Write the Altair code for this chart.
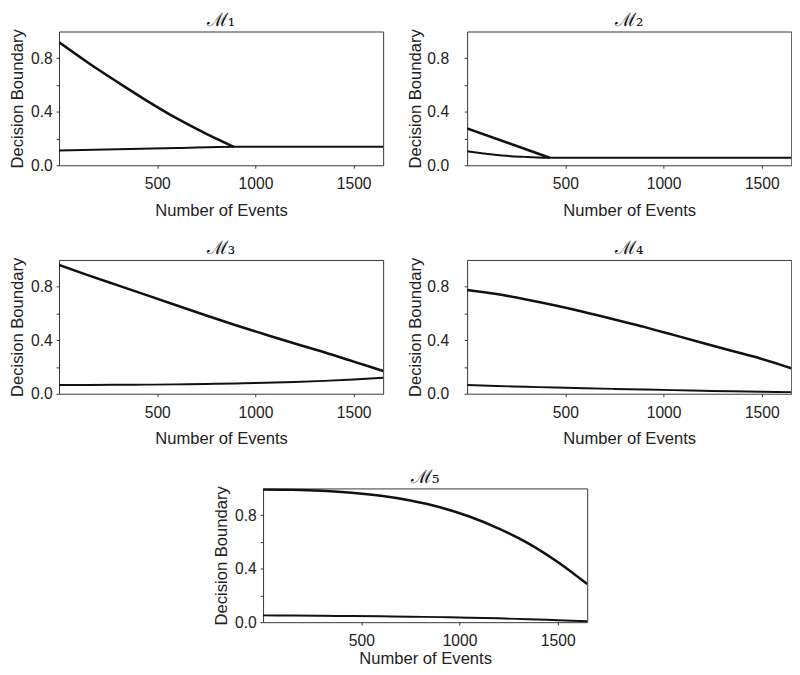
import altair as alt
import pandas as pd

# ---------------- data ----------------
x_grid = [0, 150, 300, 450, 600, 750, 900, 1050, 1200, 1350, 1500, 1650]

# M1
m1_x_upper = [0, 150, 300, 450, 600, 750, 890]
m1_upper = [0.92, 0.765, 0.62, 0.48, 0.35, 0.235, 0.138]
m1_x_lower = [0, 300, 600, 890, 1100, 1400, 1650]
m1_lower = [0.11, 0.12, 0.129, 0.138, 0.138, 0.138, 0.138]

# M2
m2_x_upper = [0, 420]
m2_upper = [0.276, 0.056]
m2_x_lower = [0, 75, 141, 224, 306, 420, 700, 1000, 1300, 1650]
m2_lower = [0.105, 0.09, 0.078, 0.068, 0.062, 0.056, 0.056, 0.056, 0.056, 0.056]

# M3
m3_upper = [0.963, 0.885, 0.81, 0.735, 0.66, 0.585, 0.512, 0.443, 0.375, 0.31, 0.24, 0.17]
m3_lower = [0.066, 0.066, 0.067, 0.068, 0.07, 0.073, 0.077, 0.082, 0.088, 0.096, 0.106, 0.12]

# M4
m4_upper = [0.776, 0.745, 0.705, 0.66, 0.61, 0.555, 0.5, 0.44, 0.38, 0.32, 0.26, 0.19]
m4_lower = [0.066, 0.058, 0.052, 0.046, 0.041, 0.036, 0.032, 0.027, 0.022, 0.018, 0.015, 0.012]

# M5
m5_upper = [0.993, 0.99, 0.982, 0.968, 0.945, 0.91, 0.86, 0.79, 0.70, 0.59, 0.45, 0.285]
m5_lower = [0.051, 0.05, 0.048, 0.046, 0.044, 0.041, 0.038, 0.034, 0.029, 0.022, 0.015, 0.007]

titles = ["ℳ₁", "ℳ₂", "ℳ₃", "ℳ₄", "ℳ₅"]
y_ticks = [0, 0.2, 0.4, 0.6, 0.8]
x_ticks = [500, 1000, 1500]

W, H = 332, 137
LINE = "#111111"


def panel(title, xu, yu, xl, yl, y_label_pad, y_title_pad, x_title_pad):
    df = pd.DataFrame({
        "x": list(xu) + list(xl),
        "y": list(yu) + list(yl),
        "s": ["upper"] * len(xu) + ["lower"] * len(xl),
    })
    yaxis = alt.Axis(
        values=y_ticks,
        labelExpr="(datum.value == 0.2 || datum.value == 0.6) ? '' : format(datum.value, '.1f')",
        title="Decision Boundary",
        grid=False, domain=False, tickSize=3,
        labelPadding=y_label_pad, titlePadding=y_title_pad,
    )
    xaxis = alt.Axis(
        values=x_ticks, format="d", title="Number of Events", grid=False, domain=False,
        tickSize=3, labelPadding=8, titlePadding=x_title_pad, labelFlush=False,
    )
    return alt.Chart(df).mark_line(
        color=LINE, interpolate="monotone", clip=True
    ).encode(
        x=alt.X("x:Q", scale=alt.Scale(domain=[0, 1650], nice=False, zero=False), axis=xaxis),
        y=alt.Y("y:Q", scale=alt.Scale(domain=[0, 1], nice=False), axis=yaxis),
        detail="s:N",
        strokeWidth=alt.StrokeWidth(
            "s:N", scale=alt.Scale(domain=["upper", "lower"], range=[2.6, 2.0]), legend=None
        ),
    ).properties(
        width=W, height=H,
        title=alt.TitleParams(title, font="DejaVu Serif", fontSize=19, dy=2,
                              fontWeight="normal", color="#111", offset=1),
    )


p1 = panel(titles[0], m1_x_upper, m1_upper, m1_x_lower, m1_lower, 4, 4, 11)
p2 = panel(titles[1], m2_x_upper, m2_upper, m2_x_lower, m2_lower, 16, 2, 11)
p3 = panel(titles[2], x_grid, m3_upper, x_grid, m3_lower, 4, 4, 11)
p4 = panel(titles[3], x_grid, m4_upper, x_grid, m4_lower, 16, 2, 11)
p5 = panel(titles[4], x_grid, m5_upper, x_grid, m5_lower, 4, 4, 2)

row1 = alt.hconcat(p1, p2, spacing=23)
row2 = alt.hconcat(p3, p4, spacing=23)

chart = alt.vconcat(row1, row2, p5, spacing=20, center=True).properties(
    padding={"left": 0, "top": -6, "right": 0, "bottom": 0}
).configure_view(
    stroke="#333333", strokeWidth=1
).configure_axis(
    labelFont="Liberation Sans", titleFont="Liberation Sans",
    labelFontSize=16, titleFontSize=17, titleFontWeight="normal",
    labelColor="#222222", titleColor="#222222", tickColor="#333333",
)

chart.save("out.html", embed_options={"renderer": "svg", "actions": False})
